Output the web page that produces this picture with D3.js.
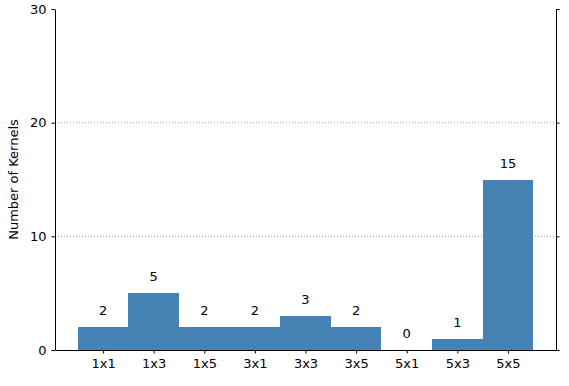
<!DOCTYPE html>
<html>
<head>
<meta charset="utf-8">
<script src="https://cdn.jsdelivr.net/npm/d3@7"></script>
<style>
  body { margin: 0; background: #fff; }
  svg text { font-family: "DejaVu Sans", sans-serif; font-size: 13px; fill: #000; }
</style>
</head>
<body>
<svg id="chart" width="569" height="386"></svg>
<script>
// kernel shapes and how many kernels use each
var categories = ["1x1", "1x3", "1x5", "3x1", "3x3", "3x5", "5x1", "5x3", "5x5"];
var counts = [2, 5, 2, 2, 3, 2, 0, 1, 15];
var yTicks = [0, 10, 20, 30];

var svg = d3.select("#chart");
var plotLeft = 55, plotRight = 556, plotTop = 9, plotBottom = 350;

var x = d3.scaleLinear().domain([-0.95, categories.length - 0.05]).range([plotLeft, plotRight]);
var y = d3.scaleLinear().domain([0, 30]).range([plotBottom, plotTop]);

// dotted grid
svg.append("g")
  .selectAll("line")
  .data([10, 20])
  .enter().append("line")
    .attr("x1", plotLeft).attr("x2", plotRight)
    .attr("y1", function(d) { return y(d); })
    .attr("y2", function(d) { return y(d); })
    .style("stroke", "#888")
    .style("stroke-width", 0.8)
    .style("stroke-dasharray", "1,2");

// bars
svg.append("g")
  .attr("shape-rendering", "crispEdges")
  .selectAll("rect")
  .data(counts)
  .enter().append("rect")
    .attr("x", function(d, i) { return x(i - 0.5); })
    .attr("width", function(d, i) { return x(i + 0.5) - x(i - 0.5); })
    .attr("y", function(d) { return y(d); })
    .attr("height", function(d) { return y(0) - y(d); })
    .style("fill", "#4682b4");

// value labels
svg.append("g")
  .selectAll("text")
  .data(counts)
  .enter().append("text")
    .attr("x", function(d, i) { return x(i); })
    .attr("y", function(d) { return y(d) - 12; })
    .attr("text-anchor", "middle")
    .text(function(d) { return d; });

// axes
var xAxis = d3.axisBottom(x)
  .tickValues(d3.range(categories.length))
  .tickFormat(function(i) { return categories[i]; })
  .tickSize(3.5).tickPadding(5).tickSizeOuter(0);
var gx = svg.append("g").attr("transform", "translate(0," + plotBottom + ")").call(xAxis);

var gy = svg.append("g").attr("transform", "translate(" + plotLeft + ",0)")
  .call(d3.axisLeft(y).tickValues(yTicks).tickSize(3.5).tickPadding(5).tickSizeOuter(0));

var gr = svg.append("g").attr("transform", "translate(" + plotRight + ",0)")
  .call(d3.axisRight(y).tickValues(yTicks).tickSize(3.5).tickFormat("").tickSizeOuter(0));

[gx, gy, gr].forEach(function(g) {
  g.selectAll("path, line").style("stroke", "#000").style("stroke-width", 1);
  g.selectAll("text").style("font-family", "DejaVu Sans, sans-serif").style("font-size", "13px");
});

svg.append("text")
  .attr("transform", "translate(18," + ((plotTop + plotBottom) / 2) + ") rotate(-90)")
  .attr("text-anchor", "middle")
  .text("Number of Kernels");
</script>
</body>
</html>
